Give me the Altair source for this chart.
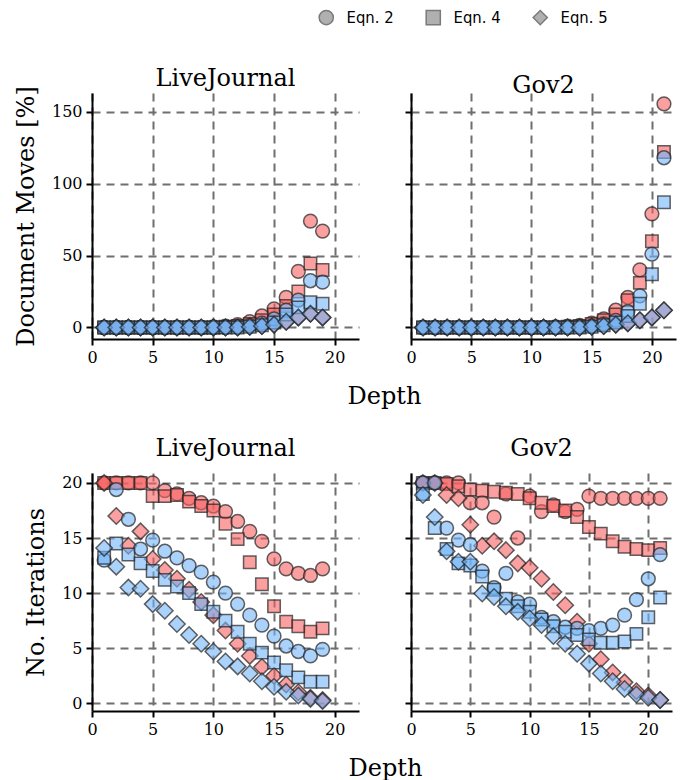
import altair as alt
import pandas as pd

eqns = ["Eqn. 2", "Eqn. 4", "Eqn. 5"]
methods = ["A", "B"]  # A = red, B = blue

depth_lj = list(range(1, 20))
depth_gov = list(range(1, 22))

# ---- Document moves [%], LiveJournal (depth 1..19)
lj_mov_A_e2 = [0, 0, 0, 0, 0, 0, 0, 0, 0, 0.5, 1, 2, 4, 8, 13, 21, 39, 74, 67]
lj_mov_A_e4 = [0, 0, 0, 0, 0, 0, 0, 0, 0, 0, 0.5, 1, 2.5, 5, 9, 15, 25, 44.5, 40]
lj_mov_A_e5 = [0, 0, 0, 0, 0, 0, 0, 0, 0, 0, 0, 0, 0.5, 1, 2, 4, 7, 9.5, 7]
lj_mov_B_e2 = [0, 0, 0, 0, 0, 0, 0, 0, 0, 0, 0, 0.5, 1.5, 3, 6, 12, 19, 32.5, 31.5]
lj_mov_B_e4 = [0, 0, 0, 0, 0, 0, 0, 0, 0, 0, 0, 0, 0.5, 1.5, 3.5, 9, 14, 17.5, 16.5]
lj_mov_B_e5 = [0, 0, 0, 0, 0, 0, 0, 0, 0, 0, 0, 0, 0.5, 1, 2, 4, 7, 9.5, 7]

# ---- Document moves [%], Gov2 (depth 1..21)
gov_mov_A_e2 = [0, 0, 0, 0, 0, 0, 0, 0, 0, 0, 0, 0.5, 1, 1.5, 3, 6, 12, 21, 40, 79, 155.5]
gov_mov_A_e4 = [0, 0, 0, 0, 0, 0, 0, 0, 0, 0, 0, 0, 0.5, 1, 2.5, 5, 9, 19, 31, 60, 122]
gov_mov_A_e5 = [0, 0, 0, 0, 0, 0, 0, 0, 0, 0, 0, 0, 0, 0, 0.5, 1, 2, 3, 5, 7, 12]
gov_mov_B_e2 = [0, 0, 0, 0, 0, 0, 0, 0, 0, 0, 0, 0, 0, 0.5, 1, 2.5, 5, 11, 22, 51, 118]
gov_mov_B_e4 = [0, 0, 0, 0, 0, 0, 0, 0, 0, 0, 0, 0, 0, 0, 0.5, 1.5, 3.5, 8, 16.5, 37, 87]
gov_mov_B_e5 = [0, 0, 0, 0, 0, 0, 0, 0, 0, 0, 0, 0, 0, 0, 0.5, 1, 2, 3, 5, 7, 12]

# ---- No. iterations, LiveJournal (depth 1..19)
lj_it_A_e2 = [20, 20, 20, 20, 20, 19.3, 19.0, 18.6, 18.2, 17.9, 17.4, 16.5, 15.6, 14.7, 13.1, 12.2, 11.8, 11.6, 12.2]
lj_it_A_e4 = [20, 20, 20, 20, 18.8, 18.8, 18.9, 18.3, 17.9, 17.5, 16.3, 14.9, 12.8, 10.8, 8.8, 7.4, 7.0, 6.5, 6.8]
lj_it_A_e5 = [20, 17.0, 14.3, 15.6, 13.1, 12.1, 11.3, 10.3, 9.2, 8.0, 6.6, 5.4, 4.3, 3.3, 2.5, 1.7, 1.0, 0.5, 0.3]
lj_it_B_e2 = [13.0, 19.4, 16.7, 14.0, 14.8, 13.8, 13.2, 12.5, 11.9, 11.0, 10.0, 9.0, 8.0, 7.1, 6.1, 5.2, 4.7, 4.3, 4.9]
lj_it_B_e4 = [13.2, 14.5, 13.5, 12.7, 12.0, 11.2, 10.6, 10.0, 9.0, 8.3, 7.5, 6.5, 5.4, 4.6, 3.7, 3.0, 2.35, 1.96, 1.96]
lj_it_B_e5 = [14.1, 12.4, 10.5, 10.4, 9.0, 8.4, 7.2, 6.2, 5.4, 4.7, 3.8, 3.35, 2.7, 2.0, 1.5, 1.04, 0.7, 0.4, 0.2]

# ---- No. iterations, Gov2 (depth 1..21)
gov_it_A_e2 = [20, 20, 20, 20, 18.2, 18.2, 16.9, 19.0, 15.0, 18.8, 17.4, 18.0, 17.4, 17.6, 18.8, 18.6, 18.6, 18.6, 18.6, 18.6, 18.6]
gov_it_A_e4 = [20, 20, 19.9, 19.7, 19.4, 19.3, 19.2, 19.1, 19.0, 18.6, 18.2, 17.9, 17.5, 16.9, 16.0, 15.4, 14.7, 14.2, 14.0, 13.9, 14.1]
gov_it_A_e5 = [20, 20, 18.9, 18.6, 16.2, 14.3, 14.7, 13.9, 12.7, 12.3, 11.3, 10.1, 8.9, 7.4, 5.4, 4.0, 2.8, 1.9, 1.1, 0.7, 0.3]
gov_it_B_e2 = [20, 20, 15.9, 14.8, 14.4, 12.0, 10.5, 11.8, 9.2, 9.0, 7.8, 7.4, 6.9, 6.8, 6.6, 6.8, 7.1, 8.0, 9.4, 11.3, 13.5]
gov_it_B_e4 = [19.0, 15.9, 14.0, 12.7, 12.5, 11.5, 10.3, 9.5, 8.8, 8.3, 7.6, 7.0, 6.5, 6.2, 5.8, 5.5, 5.5, 5.6, 6.3, 7.8, 9.6]
gov_it_B_e5 = [18.9, 16.9, 13.8, 12.85, 12.85, 9.96, 9.65, 8.8, 8.3, 7.7, 7.1, 6.1, 5.4, 4.5, 3.6, 2.7, 2.0, 1.3, 0.8, 0.5, 0.3]

series = {
    ("LiveJournal", "moves"): (depth_lj, [[lj_mov_A_e2, lj_mov_A_e4, lj_mov_A_e5], [lj_mov_B_e2, lj_mov_B_e4, lj_mov_B_e5]]),
    ("Gov2", "moves"): (depth_gov, [[gov_mov_A_e2, gov_mov_A_e4, gov_mov_A_e5], [gov_mov_B_e2, gov_mov_B_e4, gov_mov_B_e5]]),
    ("LiveJournal", "iters"): (depth_lj, [[lj_it_A_e2, lj_it_A_e4, lj_it_A_e5], [lj_it_B_e2, lj_it_B_e4, lj_it_B_e5]]),
    ("Gov2", "iters"): (depth_gov, [[gov_it_A_e2, gov_it_A_e4, gov_it_A_e5], [gov_it_B_e2, gov_it_B_e4, gov_it_B_e5]]),
}

# marker area (px^2) per shape -- style, not data
MARKER_AREA = {"Eqn. 2": 190, "Eqn. 4": 155, "Eqn. 5": 270}


def frame(key):
    depths, groups = series[key]
    rows = []
    for mi, m in enumerate(methods):
        for ei, e in enumerate(eqns):
            for d, v in zip(depths, groups[mi][ei]):
                rows.append({"depth": d, "value": v, "method": m, "eqn": e,
                             "z": mi * 3 + ei, "msize": MARKER_AREA[e]})
    return pd.DataFrame(rows)


SERIF = "DejaVu Serif"
RED = "#f76161"
BLUE = "#71b4f7"

shape_enc = alt.Shape(
    "eqn:N",
    scale=alt.Scale(domain=eqns, range=["circle", "square", "diamond"]),
    legend=alt.Legend(
        orient="none", legendX=226, legendY=-84, direction="horizontal", title=None,
        labelFont="DejaVu Sans Condensed", labelFontSize=16.5, labelColor="black",
        symbolSize=200, symbolFillColor="#b0b0b0", symbolStrokeColor="#7a7a7a",
        symbolStrokeWidth=1.5, symbolOpacity=1, labelOffset=12, columnPadding=29, padding=0,
    ),
)
color_enc = alt.Color("method:N", scale=alt.Scale(domain=methods, range=[RED, BLUE]), legend=None)


def panel(key, title, ydomain, yvals, ytitle, show_ylabels, xtitle_x, w, h, toff):
    if xtitle_x is not None:
        x_axis = alt.Axis(values=[0, 5, 10, 15, 20], title="Depth", titleX=xtitle_x, titleY=45,
                          titleBaseline="top", titleAnchor="middle", labelFlush=False)
    else:
        x_axis = alt.Axis(values=[0, 5, 10, 15, 20], title=None, labelFlush=False)
    if show_ylabels:
        y_axis = alt.Axis(values=yvals, title=ytitle, titlePadding=13, labelFlush=False)
    else:
        y_axis = alt.Axis(values=yvals, title=None, labels=False, labelFlush=False)
    return alt.Chart(frame(key)).mark_point(
        filled=True, fillOpacity=0.6, strokeOpacity=0.7, stroke="#222222", strokeWidth=1.5
    ).encode(
        x=alt.X("depth:Q", scale=alt.Scale(domain=[0, 22], nice=False, zero=False), axis=x_axis),
        y=alt.Y("value:Q", scale=alt.Scale(domain=ydomain, nice=False, zero=False), axis=y_axis),
        color=color_enc,
        shape=shape_enc,
        size=alt.Size("msize:Q", scale=None),
        order=alt.Order("z:Q"),
    ).properties(
        width=w, height=h,
        title=alt.TitleParams(title, font=SERIF, fontSize=24, fontWeight="normal", color="black",
                              offset=toff),
    )


p1 = panel(("LiveJournal", "moves"), "LiveJournal", [-8, 163], [0, 50, 100, 150], "Document Moves [%]", True, 292, 267, 246, -5)
p2 = panel(("Gov2", "moves"), "Gov2", [-8, 163], [0, 50, 100, 150], None, False, None, 265, 246, -5)
p3 = panel(("LiveJournal", "iters"), "LiveJournal", [-0.7, 20.9], [0, 5, 10, 15, 20], "No. Iterations", True, 293, 267, 238, 11)
p4 = panel(("Gov2", "iters"), "Gov2", [-0.7, 20.9], [0, 5, 10, 15, 20], None, False, None, 261, 238, 11)

chart = alt.concat(p1, p2, p3, p4, columns=2, spacing={"row": 134, "column": 52}, bounds="flush").resolve_scale(
    color="shared", shape="shared"
).properties(
    padding={"left": 5, "top": 1, "right": 5, "bottom": 5}
).configure_view(stroke="transparent").configure_axis(
    domainColor="black", domainWidth=2, tickColor="black", tickWidth=2, tickSize=6,
    gridColor="#6f6f6f", gridDash=[8, 6], gridWidth=2,
    labelFont=SERIF, labelFontSize=16, labelColor="black", labelPadding=4,
    titleFont=SERIF, titleFontSize=24, titleFontWeight="normal", titleColor="black",
)

chart.save("out.html", embed_options={"renderer": "svg", "actions": False})
